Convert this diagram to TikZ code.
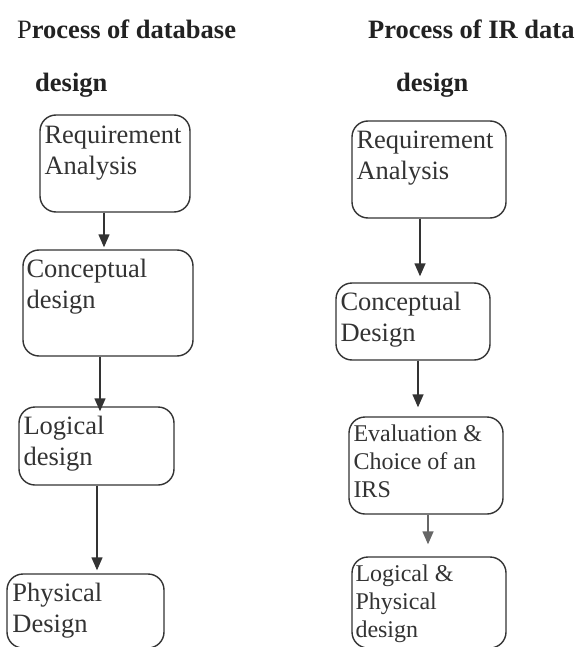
\documentclass[tikz,border=0pt]{standalone}
\usepackage{fontspec}
\setmainfont{Liberation Serif}
\usetikzlibrary{arrows.meta}
\definecolor{ink}{HTML}{333333}
\definecolor{tink}{HTML}{222222}
\tikzset{
  box/.style={draw=ink, line width=1.4pt, rounded corners=16pt, inner sep=0pt},
  txt/.style={anchor=base west, inner sep=0pt, align=left, text=ink, font=\fontsize{26.5}{31.5}\selectfont},
  txts/.style={txt, font=\fontsize{24}{28}\selectfont},
  ttl/.style={anchor=base west, inner sep=0pt, text=tink, font=\fontsize{26.5}{32}\selectfont\bfseries},
  arr/.style={draw=ink, fill=ink, line width=1.4pt, -{Triangle[length=13pt,width=11pt]}}
}
\begin{document}
\begin{tikzpicture}[x=1pt,y=1pt]
\clip (0,0) rectangle (577,-647);
\fill[white] (0,0) rectangle (577,-647);
% titles
\node[ttl] (t1) at (17,-39) {{\mdseries P}rocess of database};
\node[ttl] (t2) at (35,-92) {design};
\node[ttl] (t3) at (368,-39) {Process of IR data};
\node[ttl] (t4) at (396,-92) {design};
% left boxes
\node[box, minimum width=150pt, minimum height=97pt] (L1) at (115,-163.5) {};
\node[box, minimum width=170pt, minimum height=106pt] (L2) at (108,-303) {};
\node[box, minimum width=155pt, minimum height=78pt] (L3) at (96.5,-446) {};
\node[box, minimum width=157pt, minimum height=74pt] (L4) at (85.5,-611) {};
% right boxes
\node[box, minimum width=154pt, minimum height=97pt] (R1) at (429,-169.5) {};
\node[box, minimum width=154pt, minimum height=77pt] (R2) at (413,-321.5) {};
\node[box, minimum width=154pt, minimum height=97pt] (R3) at (426,-465.5) {};
\node[box, minimum width=154pt, minimum height=91pt] (R4) at (429,-602.5) {};
% texts (base anchor = baseline of the last line)
\node[txt] (L1t) at ([xshift=5pt,yshift=-60.5pt]L1.north west) {Requirement\\Analysis};
\node[txt] (L2t) at ([xshift=4pt,yshift=-59.5pt]L2.north west) {Conceptual\\design};
\node[txt] (L3t) at ([xshift=5pt,yshift=-59.5pt]L3.north west) {Logical\\design};
\node[txt] (L4t) at ([xshift=6pt,yshift=-59.5pt]L4.north west) {Physical\\Design};
\node[txt] (R1t) at ([xshift=5pt,yshift=-59.5pt]R1.north west) {Requirement\\Analysis};
\node[txt] (R2t) at ([xshift=5pt,yshift=-59.5pt]R2.north west) {Conceptual\\Design};
\node[txts] (R3t) at ([xshift=5pt,yshift=-81.5pt]R3.north west) {Evaluation \&\\Choice of an\\IRS};
\node[txts] (R4t) at ([xshift=4pt,yshift=-81.5pt]R4.north west) {Logical \&\\Physical\\design};
% arrows
\draw[arr, shorten >=2pt] (L1.south -| 104,0) -- (L2.north -| 104,0);
\draw[arr, shorten >=-5pt] (L2.south -| 100,0) -- (L3.north -| 100,0);
\draw[arr, shorten >=3pt] (L3.south -| 97,0) -- (L4.north -| 97,0);
\draw[arr, shorten >=6pt] (R1.south -| 420,0) -- (R2.north -| 420,0);
\draw[arr, shorten >=9pt] (R2.south -| 418,0) -- (R3.north -| 418,0);
\draw[arr, draw=gray!80!black, fill=gray!80!black, shorten >=12pt] (R3.south -| 428,0) -- (R4.north -| 428,0);
\end{tikzpicture}
\end{document}
